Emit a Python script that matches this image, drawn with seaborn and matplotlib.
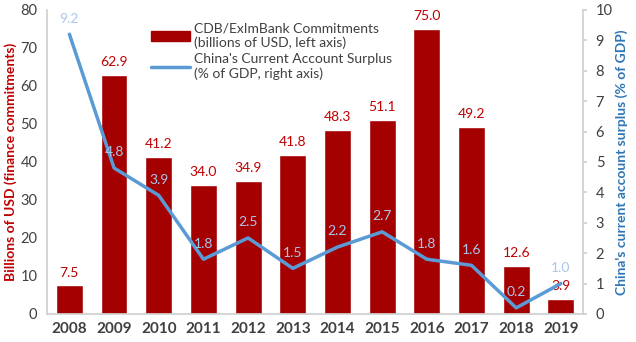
import matplotlib
matplotlib.use("Agg")
import matplotlib.pyplot as plt
import seaborn as sns
import numpy as np
import pandas as pd
from matplotlib.patches import Patch
from matplotlib.lines import Line2D

years = ["2008", "2009", "2010", "2011", "2012", "2013", "2014", "2015", "2016", "2017", "2018", "2019"]
commitments = [7.5, 62.9, 41.2, 34.0, 34.9, 41.8, 48.3, 51.1, 75.0, 49.2, 12.6, 3.9]
surplus = [9.2, 4.8, 3.9, 1.8, 2.5, 1.5, 2.2, 2.7, 1.8, 1.6, 0.2, 1.0]

sns.set_theme(style="white")
plt.rcParams['font.family'] = ['Lato', 'DejaVu Sans']

BAR = "#A50000"
LINE = "#5B9BD5"
LBL_LINE = "#A9C6EC"
AX_GREY = "#D0D0D0"
TXT = "#404040"

df = pd.DataFrame({"year": years, "commit": commitments, "surplus": surplus})

fig = plt.figure(figsize=(6.36, 3.42), dpi=100)
ax = fig.add_axes([0.074, 0.082, 0.843, 0.889])

sns.barplot(data=df, x="year", y="commit", color=BAR, width=0.6, ax=ax, saturation=1)
ax.set_ylim(0, 80)
ax.set_xlim(-0.5, len(years) - 0.5)
ax.set_yticks(range(0, 81, 10))
ax.set_xlabel("")
ax.set_ylabel("Billions of USD (finance commitments)", color="#C00000", fontweight="bold",
              fontsize=10)
ax.yaxis.set_label_coords(-0.057, 0.5)
ax.tick_params(axis="y", labelsize=10.5, labelcolor=TXT, length=0, pad=7)
ax.tick_params(axis="x", labelsize=11, labelcolor=TXT, length=0, pad=6)
for t in ax.get_xticklabels():
    t.set_fontweight("bold")
for s in ["top", "right"]:
    ax.spines[s].set_visible(False)
for s in ["left", "bottom"]:
    ax.spines[s].set_color(AX_GREY)

for i, v in enumerate(commitments):
    ax.annotate(f"{v:.1f}", (i, v), xytext=(0, 5), textcoords="offset points",
                ha="center", va="bottom", color="#C00000", fontsize=10)

ax2 = ax.twinx()
sns.lineplot(x=np.arange(len(years)), y=surplus, color=LINE, linewidth=2.5, ax=ax2)
ax2.set_ylim(0, 10)
ax2.set_yticks(range(0, 11))
ax2.set_ylabel("China's current account surplus (% of GDP)", color="#2E75B6", fontweight="bold", fontsize=10)
ax2.yaxis.set_label_coords(1.06, 0.5)
ax2.tick_params(axis="y", labelsize=10.5, labelcolor=TXT, length=3, color=AX_GREY, pad=6)
for s in ["top", "left", "bottom"]:
    ax2.spines[s].set_visible(False)
ax2.spines["right"].set_color(AX_GREY)

for i, v in enumerate(surplus):
    ax2.annotate(f"{v:.1f}", (i, v), xytext=(0, 7), textcoords="offset points",
                 ha="center", va="bottom", color=LBL_LINE, fontsize=10)

handles = [Patch(facecolor=BAR, edgecolor=BAR),
           Line2D([0], [0], color=LINE, linewidth=2.5)]
labels = ["CDB/ExImBank Commitments\n(billions of USD, left axis)",
          "China's Current Account Surplus\n(% of GDP, right axis)"]
leg = ax.legend(handles, labels, loc="upper left", bbox_to_anchor=(0.17, 1.0),
                frameon=False, fontsize=10, handlelength=2.8, labelspacing=0.3,
                handletextpad=0.3)
for t in leg.get_texts():
    t.set_color(TXT)

fig.savefig("out.png", dpi=100)
